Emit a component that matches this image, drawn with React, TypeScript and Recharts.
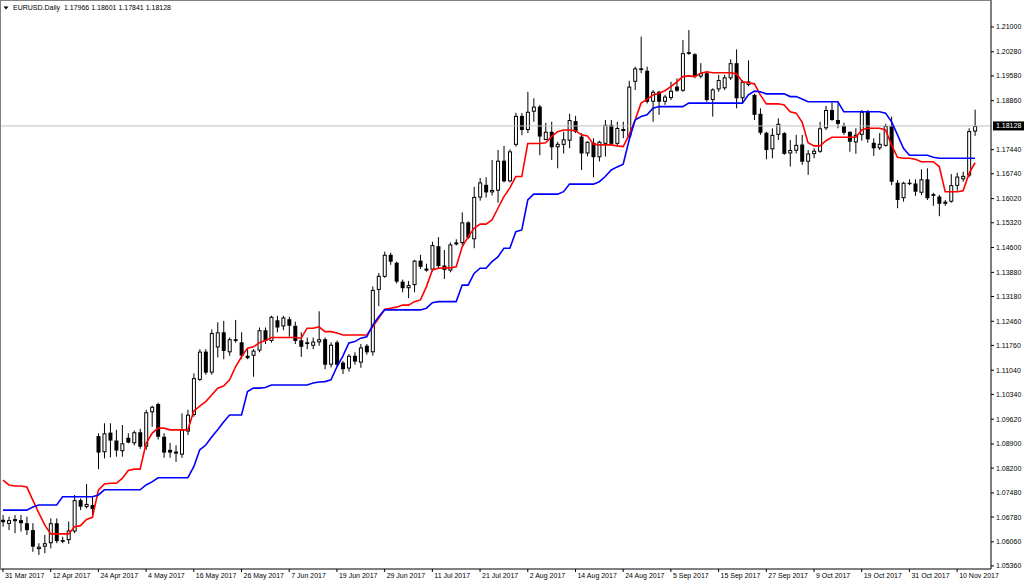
import React from 'react';
import { ComposedChart, Bar, Line, XAxis, YAxis, ReferenceLine } from 'recharts';

// EURUSD daily, 31 Mar 2017 .. 15 Nov 2017 (one entry per bar)
const tickLabels = [
  '31 Mar 2017', '12 Apr 2017', '24 Apr 2017', '4 May 2017', '16 May 2017', '26 May 2017', '7 Jun 2017',
  '19 Jun 2017', '29 Jun 2017', '11 Jul 2017', '21 Jul 2017', '2 Aug 2017', '14 Aug 2017', '24 Aug 2017',
  '5 Sep 2017', '15 Sep 2017', '27 Sep 2017', '9 Oct 2017', '19 Oct 2017', '31 Oct 2017', '10 Nov 2017',
];

const opens = [
  1.0670, 1.0658, 1.0666, 1.0669, 1.0660, 1.0640, 1.0585, 1.0592, 1.0602, 1.0660,
  1.0611, 1.0611, 1.0636, 1.0727, 1.0707, 1.0713, 1.0913, 1.0866, 1.0923, 1.0900,
  1.0869, 1.0908, 1.0892, 1.0924, 1.0882, 1.0982, 1.1006, 1.0911, 1.0873, 1.0868,
  1.0859, 1.0926, 1.0974, 1.1076, 1.1158, 1.1097, 1.1170, 1.1214, 1.1156, 1.1194,
  1.1185, 1.1146, 1.1146, 1.1161, 1.1220, 1.1189, 1.1249, 1.1231, 1.1252, 1.1233,
  1.1191, 1.1185, 1.1175, 1.1185, 1.1194, 1.1120, 1.1185, 1.1126, 1.1109, 1.1146,
  1.1126, 1.1175, 1.1156, 1.1337, 1.1375, 1.1439, 1.1416, 1.1361, 1.1342, 1.1351,
  1.1422, 1.1399, 1.1396, 1.1464, 1.1408, 1.1393, 1.1469, 1.1473, 1.1533, 1.1484,
  1.1605, 1.1642, 1.1620, 1.1625, 1.1712, 1.1652, 1.1758, 1.1842, 1.1801, 1.1854,
  1.1869, 1.1772, 1.1796, 1.1751, 1.1758, 1.1770, 1.1827, 1.1782, 1.1733, 1.1764,
  1.1722, 1.1761, 1.1816, 1.1761, 1.1804, 1.1782, 1.1941, 1.1980, 1.1973, 1.1883,
  1.1912, 1.1883, 1.1894, 1.1927, 1.1915, 1.2022, 1.2021, 1.1956, 1.1966, 1.1888,
  1.1919, 1.1922, 1.1951, 1.1995, 1.1893, 1.1932, 1.1903, 1.1848, 1.1793, 1.1745,
  1.1787, 1.1792, 1.1733, 1.1741, 1.1759, 1.1709, 1.1731, 1.1738, 1.1806, 1.1859,
  1.1830, 1.1813, 1.1796, 1.1765, 1.1787, 1.1854, 1.1764, 1.1748, 1.1755, 1.1813,
  1.1648, 1.1603, 1.1648, 1.1646, 1.1619, 1.1658, 1.1615, 1.1608, 1.1587, 1.1593,
  1.1639, 1.1658, 1.1669, 1.17966,
];

const highs = [
  1.0684, 1.0679, 1.0684, 1.0684, 1.0679, 1.0660, 1.0602, 1.0626, 1.0674, 1.0674,
  1.0621, 1.0665, 1.0742, 1.0732, 1.0774, 1.0737, 1.0921, 1.0950, 1.0950, 1.0931,
  1.0945, 1.0921, 1.0929, 1.0934, 1.0989, 1.1001, 1.1010, 1.0921, 1.0893, 1.0886,
  1.0979, 1.0989, 1.1095, 1.1165, 1.1165, 1.1222, 1.1243, 1.1247, 1.1199, 1.1250,
  1.1214, 1.1165, 1.1165, 1.1228, 1.1228, 1.1262, 1.1262, 1.1262, 1.1259, 1.1245,
  1.1214, 1.1199, 1.1199, 1.1275, 1.1199, 1.1185, 1.1190, 1.1131, 1.1151, 1.1156,
  1.1180, 1.1180, 1.1347, 1.1386, 1.1448, 1.1445, 1.1419, 1.1367, 1.1363, 1.1424,
  1.1439, 1.1413, 1.1477, 1.1490, 1.1453, 1.1475, 1.1484, 1.1562, 1.1536, 1.1636,
  1.1662, 1.1664, 1.1714, 1.1743, 1.1755, 1.1745, 1.1851, 1.1850, 1.1912, 1.1893,
  1.1874, 1.1822, 1.1825, 1.1767, 1.1796, 1.1848, 1.1842, 1.1792, 1.1768, 1.1777,
  1.1770, 1.1830, 1.1830, 1.1825, 1.1825, 1.1944, 1.1985, 1.2072, 1.1985, 1.1917,
  1.1915, 1.1903, 1.1941, 1.1951, 1.2062, 1.2091, 1.2024, 1.1995, 1.1970, 1.1922,
  1.1961, 1.1961, 1.2006, 1.2035, 1.1946, 1.2003, 1.1906, 1.1864, 1.1796, 1.1806,
  1.1835, 1.1795, 1.1772, 1.1787, 1.1787, 1.1743, 1.1748, 1.1825, 1.1871, 1.1883,
  1.1878, 1.1822, 1.1796, 1.1806, 1.1859, 1.1859, 1.1777, 1.1792, 1.1819, 1.1840,
  1.1656, 1.1651, 1.1658, 1.1658, 1.1687, 1.1690, 1.1619, 1.1613, 1.1598, 1.1673,
  1.1677, 1.1680, 1.1806, 1.18601,
];

const lows = [
  1.0650, 1.0640, 1.0631, 1.0636, 1.0626, 1.0577, 1.0568, 1.0573, 1.0587, 1.0602,
  1.0602, 1.0600, 1.0631, 1.0698, 1.0703, 1.0684, 1.0817, 1.0848, 1.0851, 1.0853,
  1.0853, 1.0892, 1.0886, 1.0876, 1.0873, 1.0940, 1.0903, 1.0850, 1.0850, 1.0838,
  1.0850, 1.0916, 1.0969, 1.1073, 1.1091, 1.1091, 1.1141, 1.1136, 1.1146, 1.1184,
  1.1136, 1.1136, 1.1085, 1.1156, 1.1180, 1.1184, 1.1214, 1.1220, 1.1201, 1.1180,
  1.1143, 1.1165, 1.1165, 1.1175, 1.1107, 1.1112, 1.1114, 1.1093, 1.1100, 1.1120,
  1.1111, 1.1149, 1.1146, 1.1290, 1.1372, 1.1410, 1.1356, 1.1330, 1.1313, 1.1330,
  1.1398, 1.1390, 1.1390, 1.1400, 1.1369, 1.1388, 1.1466, 1.1466, 1.1484, 1.1458,
  1.1596, 1.1605, 1.1611, 1.1590, 1.1649, 1.1649, 1.1753, 1.1786, 1.1792, 1.1825,
  1.1728, 1.1772, 1.1714, 1.1690, 1.1733, 1.1748, 1.1792, 1.1685, 1.1725, 1.1664,
  1.1710, 1.1724, 1.1755, 1.1755, 1.1777, 1.1777, 1.1917, 1.1966, 1.1878, 1.1825,
  1.1845, 1.1874, 1.1888, 1.1912, 1.1912, 1.2019, 1.1951, 1.1951, 1.1883, 1.1840,
  1.1912, 1.1917, 1.1946, 1.1864, 1.1882, 1.1928, 1.1830, 1.1787, 1.1716, 1.1719,
  1.1772, 1.1729, 1.1695, 1.1733, 1.1700, 1.1671, 1.1719, 1.1735, 1.1801, 1.1828,
  1.1806, 1.1787, 1.1738, 1.1732, 1.1770, 1.1764, 1.1726, 1.1743, 1.1753, 1.1641,
  1.1574, 1.1593, 1.1641, 1.1610, 1.1612, 1.1598, 1.1581, 1.1551, 1.1581, 1.1590,
  1.1625, 1.1651, 1.1664, 1.17841,
];

const closes = [
  1.0663, 1.0669, 1.0672, 1.0660, 1.0640, 1.0592, 1.0592, 1.0602, 1.0660, 1.0608,
  1.0606, 1.0639, 1.0727, 1.0708, 1.0716, 1.0701, 1.0865, 1.0921, 1.0900, 1.0871,
  1.0892, 1.0894, 1.0924, 1.0882, 1.0982, 1.0998, 1.0911, 1.0865, 1.0865, 1.0862,
  1.0931, 1.0975, 1.1081, 1.1158, 1.1097, 1.1212, 1.1214, 1.1160, 1.1194, 1.1189,
  1.1146, 1.1139, 1.1161, 1.1220, 1.1189, 1.1259, 1.1228, 1.1257, 1.1233, 1.1189,
  1.1172, 1.1180, 1.1187, 1.1194, 1.1120, 1.1178, 1.1120, 1.1107, 1.1146, 1.1129,
  1.1170, 1.1156, 1.1337, 1.1378, 1.1439, 1.1419, 1.1361, 1.1342, 1.1351, 1.1422,
  1.1404, 1.1393, 1.1467, 1.1406, 1.1395, 1.1469, 1.1475, 1.1533, 1.1489, 1.1607,
  1.1649, 1.1620, 1.1627, 1.1712, 1.1652, 1.1739, 1.1842, 1.1801, 1.1854, 1.1869,
  1.1782, 1.1796, 1.1751, 1.1761, 1.1774, 1.1830, 1.1796, 1.1733, 1.1767, 1.1722,
  1.1767, 1.1816, 1.1761, 1.1807, 1.1798, 1.1927, 1.1980, 1.1975, 1.1883, 1.1912,
  1.1883, 1.1898, 1.1915, 1.1915, 1.2024, 1.2027, 1.1956, 1.1966, 1.1888, 1.1919,
  1.1946, 1.1954, 1.1995, 1.1893, 1.1941, 1.1942, 1.1845, 1.1793, 1.1743, 1.1787,
  1.1819, 1.1732, 1.1743, 1.1758, 1.1709, 1.1733, 1.1741, 1.1806, 1.1859, 1.1830,
  1.1819, 1.1793, 1.1767, 1.1787, 1.1854, 1.1774, 1.1748, 1.1761, 1.1813, 1.1651,
  1.1598, 1.1648, 1.1644, 1.1622, 1.1658, 1.1603, 1.1610, 1.1587, 1.1593, 1.1641,
  1.1666, 1.1668, 1.1798, 1.18128,
];

// red line
const tenkan = [
  1.0785, 1.0771, 1.0768, 1.0768, 1.0765, 1.0727, 1.0690, 1.0655, 1.0629, 1.0629,
  1.0629, 1.0629, 1.0650, 1.0653, 1.0671, 1.0677, 1.0756, 1.0774, 1.0776, 1.0776,
  1.0790, 1.0813, 1.0817, 1.0817, 1.0892, 1.0921, 1.0936, 1.0936, 1.0931, 1.0931,
  1.0931, 1.0931, 1.0986, 1.1000, 1.1013, 1.1032, 1.1052, 1.1058, 1.1076, 1.1114,
  1.1143, 1.1168, 1.1172, 1.1184, 1.1190, 1.1199, 1.1199, 1.1199, 1.1199, 1.1199,
  1.1197, 1.1226, 1.1226, 1.1230, 1.1216, 1.1216, 1.1212, 1.1206, 1.1206, 1.1206,
  1.1206, 1.1206, 1.1230, 1.1255, 1.1281, 1.1284, 1.1287, 1.1293, 1.1293, 1.1303,
  1.1308, 1.1346, 1.1395, 1.1400, 1.1401, 1.1401, 1.1404, 1.1462, 1.1491, 1.1516,
  1.1528, 1.1528, 1.1540, 1.1574, 1.1608, 1.1633, 1.1666, 1.1666, 1.1762, 1.1762,
  1.1762, 1.1764, 1.1782, 1.1796, 1.1801, 1.1801, 1.1799, 1.1787, 1.1784, 1.1760,
  1.1758, 1.1758, 1.1758, 1.1755, 1.1753, 1.1787, 1.1830, 1.1879, 1.1890, 1.1903,
  1.1908, 1.1915, 1.1927, 1.1941, 1.1956, 1.1958, 1.1956, 1.1966, 1.1970, 1.1967,
  1.1967, 1.1967, 1.1967, 1.1964, 1.1941, 1.1938, 1.1935, 1.1903, 1.1877, 1.1877,
  1.1877, 1.1874, 1.1854, 1.1850, 1.1824, 1.1764, 1.1755, 1.1755, 1.1770, 1.1780,
  1.1780, 1.1780, 1.1780, 1.1780, 1.1801, 1.1806, 1.1806, 1.1806, 1.1801, 1.1758,
  1.1722, 1.1719, 1.1719, 1.1716, 1.1709, 1.1709, 1.1709, 1.1695, 1.1622, 1.1622,
  1.1622, 1.1625, 1.1675, 1.1706,
];

// blue line
const kijun = [
  1.0698, 1.0698, 1.0698, 1.0698, 1.0698, 1.0707, 1.0713, 1.0713, 1.0713, 1.0713,
  1.0737, 1.0737, 1.0737, 1.0737, 1.0737, 1.0737, 1.0742, 1.0757, 1.0757, 1.0757,
  1.0757, 1.0757, 1.0757, 1.0757, 1.0771, 1.0780, 1.0792, 1.0792, 1.0792, 1.0792,
  1.0792, 1.0792, 1.0824, 1.0873, 1.0887, 1.0910, 1.0931, 1.0954, 1.0974, 1.0974,
  1.0974, 1.1042, 1.1052, 1.1052, 1.1054, 1.1061, 1.1061, 1.1061, 1.1061, 1.1061,
  1.1061, 1.1061, 1.1067, 1.1070, 1.1071, 1.1076, 1.1114, 1.1145, 1.1183, 1.1187,
  1.1197, 1.1201, 1.1235, 1.1259, 1.1279, 1.1279, 1.1279, 1.1279, 1.1279, 1.1279,
  1.1279, 1.1284, 1.1300, 1.1303, 1.1303, 1.1303, 1.1303, 1.1351, 1.1351, 1.1385,
  1.1400, 1.1400, 1.1419, 1.1433, 1.1458, 1.1458, 1.1506, 1.1511, 1.1598, 1.1615,
  1.1615, 1.1615, 1.1615, 1.1615, 1.1622, 1.1644, 1.1644, 1.1644, 1.1644, 1.1644,
  1.1651, 1.1666, 1.1685, 1.1694, 1.1702, 1.1772, 1.1830, 1.1840, 1.1845, 1.1864,
  1.1869, 1.1869, 1.1869, 1.1869, 1.1869, 1.1879, 1.1879, 1.1879, 1.1879, 1.1879,
  1.1879, 1.1879, 1.1879, 1.1879, 1.1879, 1.1903, 1.1914, 1.1912, 1.1906, 1.1906,
  1.1906, 1.1906, 1.1898, 1.1898, 1.1891, 1.1883, 1.1883, 1.1883, 1.1883, 1.1883,
  1.1883, 1.1854, 1.1854, 1.1854, 1.1854, 1.1854, 1.1854, 1.1854, 1.1850, 1.1825,
  1.1787, 1.1748, 1.1728, 1.1728, 1.1728, 1.1728, 1.1722, 1.1719, 1.1719, 1.1719,
  1.1719, 1.1719, 1.1719, 1.1719,
];

const priceTicks = [
  1.21, 1.2028, 1.1958, 1.1886, 1.1744, 1.1674, 1.1602, 1.1532, 1.146, 1.1388, 1.1318,
  1.1246, 1.1176, 1.1104, 1.1034, 1.0962, 1.089, 1.082, 1.0748, 1.0678, 1.0606, 1.0536,
];

const rows = opens.map((o, i) => ({
  i,
  open: o,
  high: highs[i],
  low: lows[i],
  close: closes[i],
  tenkan: tenkan[i],
  kijun: kijun[i],
}));

const tickIdx = tickLabels.map((_, k) => k * 8);
const last = rows[rows.length - 1];

const W = 1024;
const H = 585;
const AXIS_W = 33;
const AXIS_H = 16;
const PLOT_BOTTOM = H - AXIS_H;
const FONT = '"Liberation Sans", Arial, sans-serif';

const Candle = (props: any) => {
  const { x, y, width, height, payload } = props;
  const { open, close, high, low } = payload;
  const cx = x + width / 2;
  const k = height / (high - low);
  const top = y + (high - Math.max(open, close)) * k;
  const bot = y + (high - Math.min(open, close)) * k;
  const bh = Math.max(bot - top, 1);
  return (
    <g>
      <line x1={cx} x2={cx} y1={y} y2={y + height} stroke="#000" strokeWidth={1} />
      {close >= open ? (
        <rect x={cx - 1.5} y={top + 0.5} width={3} height={Math.max(bh - 1, 0.5)} fill="#fff" stroke="#000" strokeWidth={1} />
      ) : (
        <rect x={cx - 2} y={top} width={4} height={bh} fill="#000" />
      )}
    </g>
  );
};

const DateTick = (props: any) => {
  const { x, payload } = props;
  const label = tickLabels[payload.value / 8];
  return (
    <g>
      <line x1={x} x2={x} y1={PLOT_BOTTOM} y2={PLOT_BOTTOM + 3} stroke="#000" />
      <text x={x + 2} y={PLOT_BOTTOM + 9} fontSize={7} fontFamily={FONT} fill="#000" textAnchor="start">
        {label}
      </text>
    </g>
  );
};

const PriceTag = (props: any) => {
  const { viewBox } = props;
  const x = viewBox.x + viewBox.width;
  const y = viewBox.y;
  return (
    <g>
      <rect x={x + 2} y={y - 4.5} width={AXIS_W - 2} height={9} fill="#000" />
      <text x={x + 5} y={y} dy="0.35em" fontSize={7} fontFamily={FONT} fill="#fff">
        {last.close.toFixed(5)}
      </text>
    </g>
  );
};

export default function App() {
  return (
    <div style={{ position: 'absolute', left: 0, top: 0, width: W, height: H, background: '#fff', overflow: 'hidden' }}>
      <ComposedChart width={W} height={H} data={rows} margin={{ top: 0, right: 0, bottom: 0, left: 0 }} barCategoryGap="10%">
        <XAxis
          dataKey="i"
          type="category"
          ticks={tickIdx}
          interval={0}
          height={AXIS_H}
          padding={{ left: 0, right: 13 }}
          axisLine={{ stroke: '#000' }}
          tickLine={false}
          tick={<DateTick />}
        />
        <YAxis
          orientation="right"
          width={AXIS_W}
          domain={[1.05272, 1.21783]}
          allowDataOverflow
          ticks={priceTicks}
          interval={0}
          axisLine={{ stroke: '#000' }}
          tickLine={{ stroke: '#000' }}
          tickSize={3}
          tickMargin={2}
          tick={{ fontSize: 7, fill: '#000', fontFamily: FONT }}
          tickFormatter={(v: number) => v.toFixed(5)}
        />
        <ReferenceLine y={last.close} stroke="#c0c0c0" strokeWidth={1} label={<PriceTag />} />
        <Bar dataKey={(d: any) => [d.low, d.high]} shape={<Candle />} activeBar={false} isAnimationActive={false} />
        <Line type="linear" dataKey="tenkan" stroke="#ff0000" strokeWidth={1.6} dot={false} activeDot={false} isAnimationActive={false} />
        <Line type="linear" dataKey="kijun" stroke="#0000ff" strokeWidth={1.6} dot={false} activeDot={false} isAnimationActive={false} />
      </ComposedChart>
      <div style={{ position: 'absolute', left: 0, top: 0, width: W - AXIS_W, height: PLOT_BOTTOM, borderLeft: '1px solid #808080', borderTop: '1px solid #808080', boxSizing: 'border-box', pointerEvents: 'none' }} />
      <div style={{ position: 'absolute', left: 3, top: 3, display: 'flex', alignItems: 'center', fontFamily: FONT, fontSize: 7, lineHeight: '10px', color: '#000', whiteSpace: 'pre' }}>
        <svg width={6} height={10} style={{ marginRight: 4 }}>
          <polygon points="0.5,3.5 5.5,3.5 3,6.5" fill="#000" />
        </svg>
        <span>{`EURUSD.Daily  ${last.open.toFixed(5)} ${last.high.toFixed(5)} ${last.low.toFixed(5)} ${last.close.toFixed(5)}`}</span>
      </div>
    </div>
  );
}
